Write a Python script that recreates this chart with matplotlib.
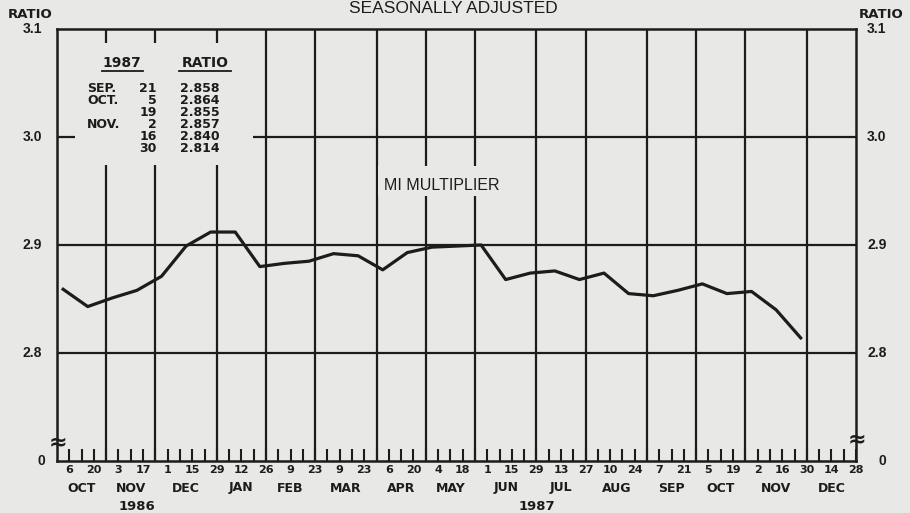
import datetime as dt
import numpy as np
import matplotlib.pyplot as plt
import matplotlib.transforms as mtransforms
from matplotlib.patches import Rectangle

plt.rcParams['font.family'] = ['Liberation Sans', 'DejaVu Sans']

W, H = 910, 513
INK = '#1c1c1c'
PAPER = '#e8e8e6'
WIDE = ['DejaVu Sans']   # wider bold face, closer to the plotter lettering

START = dt.date(1986, 9, 29)   # week 0 = left edge
END = dt.date(1987, 12, 28)    # right edge

# M1 multiplier, biweekly, seasonally adjusted
dates = ['1986-10-06', '1986-10-20', '1986-11-03', '1986-11-17', '1986-12-01',
         '1986-12-15', '1986-12-29', '1987-01-12', '1987-01-26', '1987-02-09',
         '1987-02-23', '1987-03-09', '1987-03-23', '1987-04-06', '1987-04-20',
         '1987-05-04', '1987-05-18', '1987-06-01', '1987-06-15', '1987-06-29',
         '1987-07-13', '1987-07-27', '1987-08-10', '1987-08-24', '1987-09-07',
         '1987-09-21', '1987-10-05', '1987-10-19', '1987-11-02', '1987-11-16',
         '1987-11-30']
ratio = [2.859, 2.843, 2.851, 2.858, 2.871, 2.899, 2.912, 2.912, 2.880, 2.883,
         2.885, 2.892, 2.890, 2.877, 2.893, 2.898, 2.899, 2.900, 2.868, 2.874,
         2.876, 2.868, 2.874, 2.855, 2.853, 2.858, 2.864, 2.855, 2.857, 2.840,
         2.814]

table_months = ['SEP.', 'OCT.', '', 'NOV.', '', '']
table_days = ['21', '5', '19', '2', '16', '30']
table_vals = ['2.858', '2.864', '2.855', '2.857', '2.840', '2.814']

ytick_vals = [2.7, 2.8, 2.9, 3.0, 3.1]
ytick_text = ['0', '2.8', '2.9', '3.0', '3.1']
MONTHS = ['JAN', 'FEB', 'MAR', 'APR', 'MAY', 'JUN', 'JUL', 'AUG', 'SEP', 'OCT', 'NOV', 'DEC']


def week(d):
    return (d - START).days / 7


def fx(px):
    return px / W


def fy(py):
    return 1 - py / H


mondays = [START + dt.timedelta(weeks=k) for k in range(1, int(week(END)) + 1)]
wk = np.array([week(d) for d in mondays])
xs = np.array([week(dt.date.fromisoformat(s)) for s in dates]) - 0.5

fig = plt.figure(figsize=(W / 100, H / 100), dpi=100, facecolor=PAPER)
ax = fig.add_axes([fx(57), 52 / H, (856 - 57) / W, (461 - 29) / H])
ax.set_facecolor(PAPER)
ax.set_xlim(0, week(END))
ax.set_ylim(2.7, 3.1)

# grid
for v in [2.8, 2.9, 3.0]:
    ax.axhline(v, color=INK, lw=1.6, zorder=1)
bounds = [week(d) for d in mondays[:-1] if (d + dt.timedelta(days=7)).month != d.month]
for b in bounds:
    ax.axvline(b, color=INK, lw=1.6, zorder=1)
for s in ax.spines.values():
    s.set_color(INK)
    s.set_linewidth(1.8)

# blank boxes behind the table and the series label
ax.add_patch(Rectangle((fx(75), fy(165)), fx(253) - fx(75), fy(43) - fy(165),
                       transform=fig.transFigure, facecolor=PAPER, edgecolor='none', zorder=2))
ax.add_patch(Rectangle((fx(378), fy(196)), fx(506) - fx(378), fy(166) - fy(196),
                       transform=fig.transFigure, facecolor=PAPER, edgecolor='none', zorder=2))

ax.plot(xs, ratio, color=INK, lw=2.3, zorder=3)

# x ticks: weekly, labelled every two weeks
labels = [str(d.day) if i % 2 == 0 else '' for i, d in enumerate(mondays)]
ax.set_xticks(wk)
ax.set_xticklabels(labels, fontsize=8, fontweight='bold', family=WIDE, color=INK)
ax.tick_params(axis='x', direction='in', length=9, width=1.5, color=INK, pad=3)
ax.set_yticks([])

bt = mtransforms.blended_transform_factory(ax.transData, fig.transFigure)
edges = [0] + bounds + [week(END)]
for i in range(len(edges) - 1):
    m = mondays[int(round(edges[i]))].month
    ax.text((edges[i] + edges[i + 1]) / 2, fy(488), MONTHS[m - 1], transform=bt,
            ha='center', va='center', fontsize=9, fontweight='bold', family=WIDE, color=INK)
ax.text(bounds[2] / 2, fy(506), '1986', transform=bt, ha='center', va='center',
        fontsize=9.5, fontweight='bold', family=WIDE, color=INK)
ax.text((bounds[2] + week(END)) / 2, fy(506), '1987', transform=bt, ha='center',
        va='center', fontsize=9.5, fontweight='bold', family=WIDE, color=INK)

# y labels on both sides
yt = mtransforms.blended_transform_factory(fig.transFigure, ax.transData)
for v, t in zip(ytick_vals, ytick_text):
    if t == '0':
        ax.text(fx(41), v, t, transform=yt, ha='center', va='center', fontsize=10,
                fontweight='bold', color=INK)
        ax.text(fx(882), v, t, transform=yt, ha='center', va='center', fontsize=10,
                fontweight='bold', color=INK)
    else:
        ax.text(fx(42), v, t, transform=yt, ha='right', va='center', fontsize=10,
                fontweight='bold', color=INK)
        ax.text(fx(867), v, t, transform=yt, ha='left', va='center', fontsize=10,
                fontweight='bold', color=INK)
fig.text(fx(30), fy(14), 'RATIO', ha='center', va='center', fontsize=9.5,
         fontweight='bold', family=WIDE, color=INK)
fig.text(fx(881), fy(14), 'RATIO', ha='center', va='center', fontsize=9.5,
         fontweight='bold', family=WIDE, color=INK)
fig.text(fx(58), fy(442), '≈', ha='center', va='center', fontsize=16, fontweight='bold',
         family=WIDE, color=INK)
fig.text(fx(857), fy(439), '≈', ha='center', va='center', fontsize=16, fontweight='bold',
         family=WIDE, color=INK)

fig.text(fx(453), fy(1), 'SEASONALLY ADJUSTED', ha='center', va='top', fontsize=12.5, color=INK)
fig.text(fx(442), fy(185), 'MI MULTIPLIER', ha='center', va='center', fontsize=11.5, color=INK)

# table of latest values
fig.text(fx(122), fy(63), '1987', ha='center', va='center', fontsize=10,
         fontweight='bold', family=WIDE, color=INK)
fig.text(fx(205), fy(63), 'RATIO', ha='center', va='center', fontsize=10,
         fontweight='bold', family=WIDE, color=INK)
fig.add_artist(plt.Line2D([fx(102), fx(143)], [fy(71), fy(71)], color=INK, lw=1.3))
fig.add_artist(plt.Line2D([fx(179), fx(231)], [fy(71), fy(71)], color=INK, lw=1.3))
for i, (m, d, v) in enumerate(zip(table_months, table_days, table_vals)):
    y = fy(88 + 12 * i)
    fig.text(fx(87), y, m, ha='left', va='center', fontsize=9, fontweight='bold',
             family=WIDE, color=INK)
    fig.text(fx(157), y, d, ha='right', va='center', fontsize=9, fontweight='bold',
             family=WIDE, color=INK)
    fig.text(fx(180), y, v, ha='left', va='center', fontsize=9, fontweight='bold',
             family=WIDE, color=INK)

fig.savefig('out.png', dpi=100, facecolor=PAPER)
